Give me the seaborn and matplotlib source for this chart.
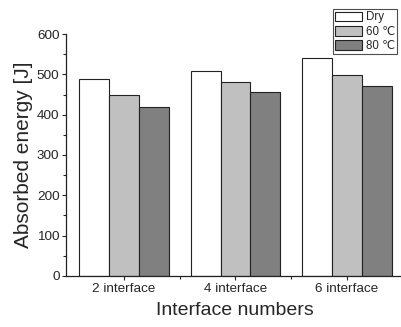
import pandas as pd
import matplotlib
matplotlib.use('Agg')
import matplotlib.pyplot as plt
import seaborn as sns
from matplotlib.ticker import MultipleLocator, FixedLocator

# Data
categories = ['2 interface', '4 interface', '6 interface']
conditions = ['Dry', '60 ℃', '80 ℃']
dry = [489, 508, 541]
c60 = [450, 481, 498]
c80 = [420, 457, 471]
colors = ['#ffffff', '#c0c0c0', '#808080']

rows = []
for cond, vals in zip(conditions, [dry, c60, c80]):
    for cat, v in zip(categories, vals):
        rows.append({'category': cat, 'condition': cond, 'energy': v})
df = pd.DataFrame(rows)

sns.set_style('ticks')
plt.rcParams['font.family'] = ['Liberation Sans', 'DejaVu Sans', 'Noto Sans CJK SC']

fig = plt.figure(figsize=(4.01, 3.27), dpi=100)
ax = fig.add_axes([0.1658, 0.156, 0.8384, 0.740])

sns.barplot(data=df, x='category', y='energy', hue='condition',
            palette=colors, edgecolor='#222222', linewidth=0.8,
            width=0.8, ax=ax, legend=False)

ax.set_ylim(0, 600)
ax.set_xlim(-0.515, 2.5)
ax.yaxis.set_major_locator(MultipleLocator(100))
ax.yaxis.set_minor_locator(MultipleLocator(50))
ax.xaxis.set_minor_locator(FixedLocator([0.5, 1.5]))
ax.tick_params(axis='both', which='major', length=3, width=0.8, labelsize=9.7, pad=2)
ax.tick_params(axis='both', which='minor', length=2, width=0.8)
sns.despine(ax=ax, top=True, right=True)
for s in ['left', 'bottom']:
    ax.spines[s].set_linewidth(0.9)
    ax.spines[s].set_color('#222222')

ax.set_xlabel('Interface numbers', fontsize=14, labelpad=5)
ax.set_ylabel('Absorbed energy [J]', fontsize=15, labelpad=3)

handles = [plt.Rectangle((0, 0), 1, 1, facecolor=c, edgecolor='#222222', linewidth=0.8)
           for c in colors]
leg = fig.legend(handles, conditions, loc='upper right', bbox_to_anchor=(0.99, 0.972),
                 frameon=True, fancybox=False, fontsize=8.3, handlelength=2.3,
                 handleheight=0.9, handletextpad=0.35, borderpad=0.2,
                 labelspacing=0.2, borderaxespad=0)
leg.get_frame().set_edgecolor('#222222')
leg.get_frame().set_linewidth(0.8)

fig.savefig('out.png', dpi=100)
